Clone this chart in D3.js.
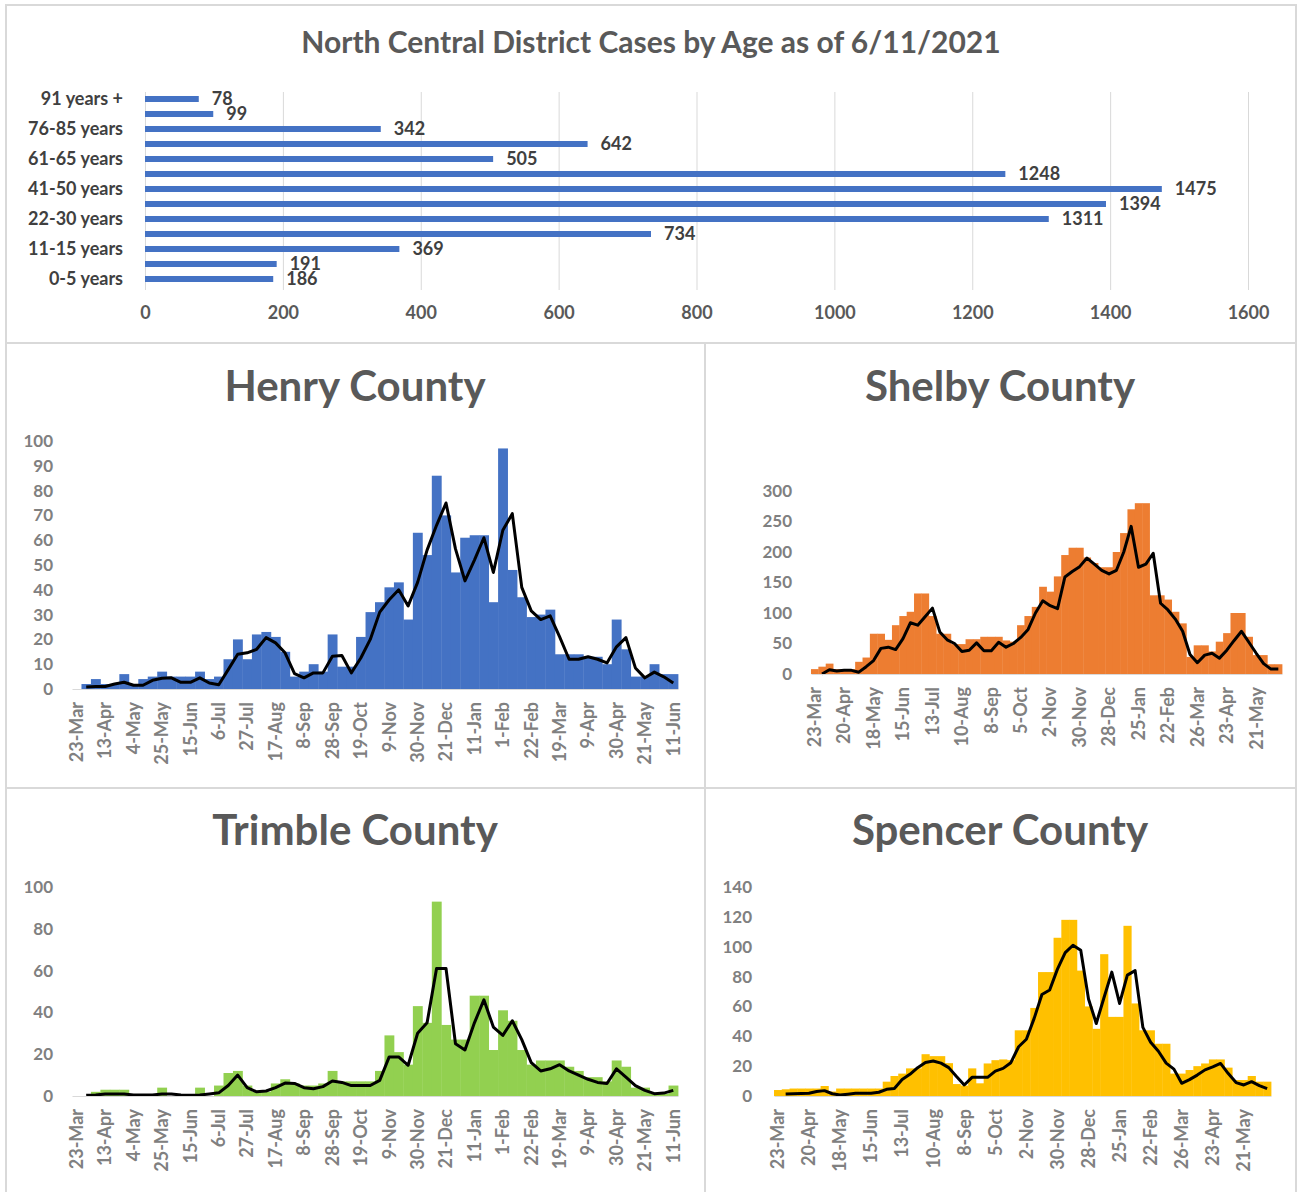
<!DOCTYPE html>
<html>
<head>
<meta charset="utf-8">
<title>North Central District Cases</title>
<script src="https://cdn.jsdelivr.net/npm/d3@7"></script>
<style>
    body{
        margin:0;
        background:#fff;
        font-family:Lato, "Open Sans", sans-serif;
    }
</style>
</head>
<body>
<div id="chart"></div>
<script>
// age breakdown, bottom to top as in the sheet
var ageGroups = ["0-5 years","6-10 years","11-15 years","16-21 years","22-30 years","31-40 years","41-50 years","51-60 years","61-65 years","66-75 years","76-85 years","86-90 years","91 years +"]
var ageCases = [186,191,369,734,1311,1394,1475,1248,505,642,342,99,78]
var ageTicks = [0,200,400,600,800,1000,1200,1400,1600]

// weekly categories 23-Mar-2020 .. 11-Jun-2021
var weeks = ["23-Mar","30-Mar","6-Apr","13-Apr","20-Apr","27-Apr","4-May","11-May","18-May","25-May",
    "1-Jun","8-Jun","15-Jun","22-Jun","29-Jun","6-Jul","13-Jul","20-Jul","27-Jul","3-Aug",
    "10-Aug","17-Aug","24-Aug","31-Aug","8-Sep","14-Sep","21-Sep","28-Sep","5-Oct","12-Oct",
    "19-Oct","26-Oct","2-Nov","9-Nov","16-Nov","23-Nov","30-Nov","7-Dec","14-Dec","21-Dec",
    "28-Dec","4-Jan","11-Jan","18-Jan","25-Jan","1-Feb","8-Feb","15-Feb","22-Feb","1-Mar",
    "12-Mar","19-Mar","26-Mar","2-Apr","9-Apr","16-Apr","23-Apr","30-Apr","7-May","14-May",
    "21-May","28-May","4-Jun","11-Jun"]

var henryCases = [0,2,4,2,2,6,2,4,5,7, 5,5,5,7,4,5,12,20,12,22, 23,21,15,5,7,10,7,22,9,9,
    21,31,35,41,43,28,63,54,86,70, 47,61,62,62,35,97,48,37,29,30, 32,14,14,14,13,13,10,28,16,5, 5,10,6,6]
var henryAvg = [null,0.8,1,1,2,2.7,1.5,1.5,3.5,4.3, 4.5,2.7,2.7,4.5,2.4,1.7,7.8,14,14.6,16, 20.7,18.6,14.6,6.2,4.5,6.5,6.5,13.2,13.5,6.5,
    12.5,20,31,36,40,33.5,43,56,66,75, 56.5,43.6,52,61,47,64,70.7,41,31.5,28, 29.5,21,12,12,13,12,10.5,17,20.7,8.5, 4.5,6.8,4.9,2.4]

var shelbyCases = [8,12,17,8,8,8,20,27,66,66, 56,80,95,102,132,132,95,66,66,49, 49,57,57,61,61,61,55,53,80,95,
    110,143,135,160,195,207,207,191,182,175, 175,200,231,270,280,280,129,129,122,102, 83,28,47,47,37,53,67,100,100,61, 31,31,16,16]
var shelbyAvg = [null,0,7,5,6,6,3,12,22,42, 44,40,58,84,80,94,108,69,56,50, 37,39,51,38,38,52,44,50,60,73,
    100,120,112,107,159,168,176,190,180,170, 164,170,200,242,175,180,198,116,105,90, 70,32,18.5,31,34,26,39,55,70,52, 34,17,8,8]

var trimbleCases = [0,0,2,3,3,3,0,0,0,4, 0,0,0,4,0,5,11,12,5,2, 2,6,8,6,5,5,6,12,7,7,
    7,7,12,29,21,15,43,35,93,34, 27,27,48,48,22,41,36,22,15,17, 17,17,14,12,9,9,7,17,14,4, 4,1,1,5]
var trimbleAvg = [null,0.3,0.5,1,1,1,0.5,0.5,0.5,1, 1,0.5,0.3,0.5,1,1.5,5,10,4,2, 2.4,4,6.2,6,4,3.5,4.5,7.2,6.5,5,
    5,5,7.5,18.7,18.7,14.7,30,35,61,61, 25,22,35,46,33,29,36,27,16,12, 13,15,12,10,8,6.5,6,13,9,5, 2.7,1.1,1.4,2.7]

var spencerCases = [4,4.5,5,5,5,5,6.7,3,5,5, 5,5,5,5,9.6,13.4,15,18.5,18.5,28, 26.7,26.7,22,8,7,18.5,8.5,21.8,24,24.5,
    24,44,44,59,83,83,106,118,118,84, 60,45,95,53,53,114,62,44,44,35, 35,15,15,17.4,20,21.8,24.5,24.5,19,10.7, 10.7,13.4,9.6,9.6]
var spencerAvg = [null,1.3,1.5,1.7,1.8,3,3.6,1.5,0.7,1.2, 1.8,1.8,1.8,2.5,4.5,5,11,14.5,19,22.5, 23.4,22,19,13,7.4,12.5,12.5,12.5,16.7,18.5,
    22.3,33,38,52,68,71,85,96,101,97.6, 65,48.6,66,83,62,81,84,46,36,30, 22,18,8.5,11,14,17.5,19.5,21.8,15,9, 7.4,9.6,7,5]

var W = 1297, H = 1192
var grey = "#595959"
var lightGrey = "#d9d9d9"

var svg = d3.select("#chart").append("svg")
    .attr("width", W)
    .attr("height", H)

// panel frames
svg.append("rect").attr("x",6).attr("y",5).attr("width",1290).attr("height",1210)
    .attr("fill","none").attr("stroke",lightGrey).attr("stroke-width",2)
svg.append("line").attr("x1",6).attr("x2",1296).attr("y1",343).attr("y2",343)
    .attr("stroke",lightGrey).attr("stroke-width",2)
svg.append("line").attr("x1",6).attr("x2",1296).attr("y1",788).attr("y2",788)
    .attr("stroke",lightGrey).attr("stroke-width",2)
svg.append("line").attr("x1",705).attr("x2",705).attr("y1",343).attr("y2",H)
    .attr("stroke",lightGrey).attr("stroke-width",2)

ageChart()
countyChart({title:"Henry County", cases:henryCases, avg:henryAvg, color:"#4472c4",
    titleX:355, titleY:401, x0:72, x1:678, yTop:441, yBottom:689, yMax:100, yStep:10, every:3, labelX:53})
countyChart({title:"Shelby County", cases:shelbyCases, avg:shelbyAvg, color:"#ed7d31",
    titleX:1000, titleY:401, x0:811, x1:1282, yTop:491, yBottom:674, yMax:300, yStep:50, every:4, labelX:792})
countyChart({title:"Trimble County", cases:trimbleCases, avg:trimbleAvg, color:"#92d050",
    titleX:355, titleY:845, x0:72, x1:678, yTop:887, yBottom:1096, yMax:100, yStep:20, every:3, labelX:53})
countyChart({title:"Spencer County", cases:spencerCases, avg:spencerAvg, color:"#ffc000",
    titleX:1000, titleY:845, x0:774, x1:1271, yTop:887, yBottom:1096, yMax:140, yStep:20, every:4, labelX:752})

function ageChart(){
    svg.append("text").text("North Central District Cases by Age as of 6/11/2021")
        .attr("x",651).attr("y",53)
        .attr("text-anchor","middle")
        .style("font-size","30px").style("font-weight","bold")
        .attr("fill",grey)

    var xScale = d3.scaleLinear().domain([0,1600]).range([145,1248])
    var yScale = d3.scalePoint().domain(ageGroups.slice().reverse()).range([99,279])

    var xAxis = d3.axisBottom(xScale).tickValues(ageTicks).tickFormat(d3.format("d"))
        .tickSize(-198).tickPadding(16)
    var gx = svg.append("g")
        .attr("transform","translate(0,290)")
        .call(xAxis)
    gx.select(".domain").remove()
    gx.selectAll("line").attr("stroke",lightGrey)
    gx.selectAll("text").attr("fill",grey)
        .style("font-size","18px").style("font-weight","bold").style("font-family","Lato")

    svg.selectAll(".agebar")
        .data(ageGroups)
        .enter()
        .append("rect")
        .attr("class","agebar")
        .attr("x",xScale(0))
        .attr("y",function(d){return yScale(d)-3})
        .attr("height",6)
        .attr("width",function(d,i){return xScale(ageCases[i])-xScale(0)})
        .attr("fill","#4472c4")

    svg.selectAll(".agevalue")
        .data(ageGroups)
        .enter()
        .append("text")
        .attr("class","agevalue")
        .text(function(d,i){return ageCases[i]})
        .attr("x",function(d,i){return xScale(ageCases[i])+13})
        .attr("y",function(d){return yScale(d)})
        .attr("dy","0.35em")
        .style("font-size","18px")
        .style("font-weight","bold")
        .attr("fill","#404040")

    // only every other age group gets a label, like the original
    svg.selectAll(".agelabel")
        .data(ageGroups.filter(function(d,i){return i%2==0}))
        .enter()
        .append("text")
        .attr("class","agelabel")
        .text(function(d){return d})
        .attr("x",123)
        .attr("y",function(d){return yScale(d)})
        .attr("dy","0.35em")
        .attr("text-anchor","end")
        .style("font-size","18px")
        .style("font-weight","bold")
        .attr("fill","#404040")
}

function countyChart(o){
    svg.append("text").text(o.title)
        .attr("x",o.titleX).attr("y",o.titleY)
        .attr("text-anchor","middle")
        .style("font-size","42px").style("font-weight","bold")
        .attr("fill",grey)

    var xScale = d3.scaleBand().domain(d3.range(weeks.length)).range([o.x0,o.x1]).padding(0)
    var yScale = d3.scaleLinear().domain([0,o.yMax]).range([o.yBottom,o.yTop])
    var bw = xScale.bandwidth()

    var g = svg.append("g")

    g.selectAll("rect")
        .data(o.cases)
        .enter()
        .append("rect")
        .attr("x",function(d,i){return xScale(i)})
        .attr("width",bw+0.4)
        .attr("y",function(d){return yScale(d)})
        .attr("height",function(d){return yScale(0)-yScale(d)})
        .attr("fill",o.color)

    // baseline + rotated week labels
    var xAxis = d3.axisBottom(xScale)
        .tickValues(d3.range(weeks.length).filter(function(i){return i%o.every==0}))
        .tickFormat(function(i){return weeks[i]})
        .tickSize(0)
    var gx = svg.append("g")
        .attr("transform","translate(0,"+yScale(0)+")")
        .call(xAxis)
    gx.select(".domain").attr("stroke",lightGrey)
    gx.selectAll("text")
        .attr("transform","rotate(-90)")
        .attr("x",-13)
        .attr("y",0)
        .attr("dy","0.35em")
        .attr("text-anchor","end")
        .attr("fill","#808080")
        .style("font-size","18px")
        .style("font-weight","bold")
        .style("font-family","Lato")

    var yAxis = d3.axisLeft(yScale).tickValues(d3.range(0,o.yMax+1,o.yStep)).tickSize(0).tickPadding(0)
    var gy = svg.append("g")
        .attr("transform","translate("+o.labelX+",0)")
        .call(yAxis)
    gy.select(".domain").remove()
    gy.selectAll("text")
        .attr("fill","#808080")
        .style("font-size","17px")
        .style("font-weight","bold")
        .style("font-family","Lato")

    var line = d3.line()
        .defined(function(d){return d!=null})
        .x(function(d,i){return xScale(i)+bw/2})
        .y(function(d){return yScale(d)})

    g.append("path")
        .datum(o.avg)
        .attr("d",line)
        .attr("fill","none")
        .attr("stroke","#000")
        .attr("stroke-width",3)
        .attr("stroke-linejoin","round")
}
</script>
</body>
</html>
